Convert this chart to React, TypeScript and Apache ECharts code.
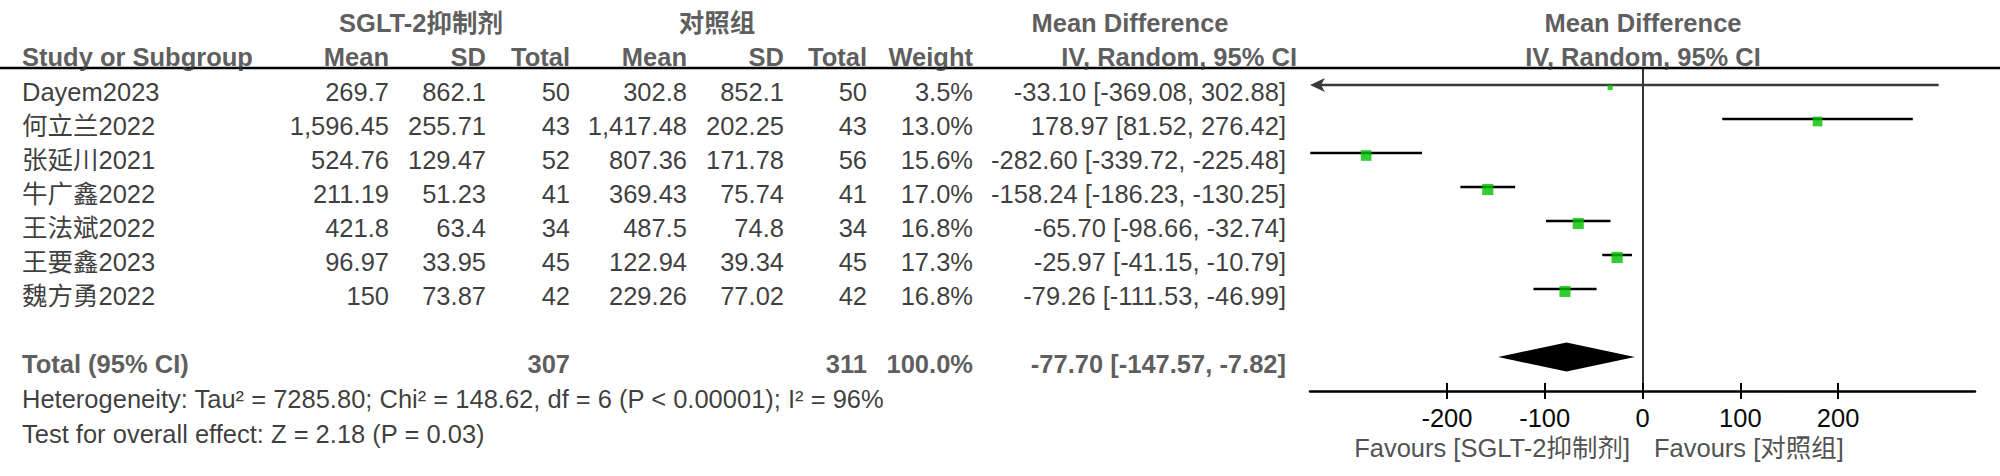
import React, { useEffect, useRef } from "react";
import * as echarts from "echarts";

// ---------- data ----------
const studies = ["Dayem2023", "何立兰2022", "张延川2021", "牛广鑫2022", "王法斌2022", "王要鑫2023", "魏方勇2022"];
const expMean = [269.7, 1596.45, 524.76, 211.19, 421.8, 96.97, 150];
const expSD = [862.1, 255.71, 129.47, 51.23, 63.4, 33.95, 73.87];
const expTotal = [50, 43, 52, 41, 34, 45, 42];
const ctlMean = [302.8, 1417.48, 807.36, 369.43, 487.5, 122.94, 229.26];
const ctlSD = [852.1, 202.25, 171.78, 75.74, 74.8, 39.34, 77.02];
const ctlTotal = [50, 43, 56, 41, 34, 45, 42];
const weights = [3.5, 13.0, 15.6, 17.0, 16.8, 17.3, 16.8];
const meanDiff = [-33.1, 178.97, -282.6, -158.24, -65.7, -25.97, -79.26];
const ciLow = [-369.08, 81.52, -339.72, -186.23, -98.66, -41.15, -111.53];
const ciHigh = [302.88, 276.42, -225.48, -130.25, -32.74, -10.79, -46.99];
const totalExp = 307;
const totalCtl = 311;
const totalWeight = 100.0;
const totalMD = -77.7;
const totalLow = -147.57;
const totalHigh = -7.82;
const groupExp = "SGLT-2抑制剂";
const groupCtl = "对照组";
const heterogeneityText = "Heterogeneity: Tau² = 7285.80; Chi² = 148.62, df = 6 (P < 0.00001); I² = 96%";
const overallText = "Test for overall effect: Z = 2.18 (P = 0.03)";
const xTicks = [-200, -100, 0, 100, 200];
const xRange = [-340, 340];

// ---------- layout (pixel columns in the table grid) ----------
const COL = {
  name: 22, mean1: 389, sd1: 486, n1: 570, mean2: 687, sd2: 784, n2: 867,
  weight: 973, ci: 1286, ciHead: 1297, grp1: 421, grp2: 717, mdHead: 1130,
  plotHead: 1643, favL: 1630, favR: 1654,
};
const FONT = "'Liberation Sans', Arial, 'Noto Sans CJK SC', sans-serif";
const FS = 25.5;

const fmtNum = (v: number) => v.toLocaleString("en-US", { maximumFractionDigits: 3 });
const fmtCI = (m: number, l: number, h: number) => `${m.toFixed(2)} [${l.toFixed(2)}, ${h.toFixed(2)}]`;

type Align = "left" | "right" | "center";
const txt = (x: number, y: number, s: string, align: Align, bold = false, color = "#0a0a0a") => ({
  name: s,
  value: [x, y],
  label: { align, fontWeight: bold ? "bold" : "normal", color },
});

function buildTexts() {
  const H = "#333";
  const items: any[] = [];
  const h1 = -1.82;
  const h2 = -0.82;
  items.push(txt(COL.grp1, h1, groupExp, "center", true, H));
  items.push(txt(COL.grp2, h1, groupCtl, "center", true, H));
  items.push(txt(COL.mdHead, h1, "Mean Difference", "center", true, H));
  items.push(txt(COL.plotHead, h1, "Mean Difference", "center", true, H));
  items.push(txt(COL.name, h2, "Study or Subgroup", "left", true, H));
  items.push(txt(COL.mean1, h2, "Mean", "right", true, H));
  items.push(txt(COL.sd1, h2, "SD", "right", true, H));
  items.push(txt(COL.n1, h2, "Total", "right", true, H));
  items.push(txt(COL.mean2, h2, "Mean", "right", true, H));
  items.push(txt(COL.sd2, h2, "SD", "right", true, H));
  items.push(txt(COL.n2, h2, "Total", "right", true, H));
  items.push(txt(COL.weight, h2, "Weight", "right", true, H));
  items.push(txt(COL.ciHead, h2, "IV, Random, 95% CI", "right", true, H));
  items.push(txt(COL.plotHead, h2, "IV, Random, 95% CI", "center", true, H));
  studies.forEach((s, i) => {
    const y = i + 0.22;
    items.push(txt(COL.name, y, s, "left"));
    items.push(txt(COL.mean1, y, fmtNum(expMean[i]), "right"));
    items.push(txt(COL.sd1, y, fmtNum(expSD[i]), "right"));
    items.push(txt(COL.n1, y, String(expTotal[i]), "right"));
    items.push(txt(COL.mean2, y, fmtNum(ctlMean[i]), "right"));
    items.push(txt(COL.sd2, y, fmtNum(ctlSD[i]), "right"));
    items.push(txt(COL.n2, y, String(ctlTotal[i]), "right"));
    items.push(txt(COL.weight, y, weights[i].toFixed(1) + "%", "right"));
    items.push(txt(COL.ci, y, fmtCI(meanDiff[i], ciLow[i], ciHigh[i]), "right"));
  });
  const ty = studies.length + 1 + 0.22;
  items.push(txt(COL.name, ty, "Total (95% CI)", "left", true, H));
  items.push(txt(COL.n1, ty, String(totalExp), "right", true, H));
  items.push(txt(COL.n2, ty, String(totalCtl), "right", true, H));
  items.push(txt(COL.weight, ty, totalWeight.toFixed(1) + "%", "right", true, H));
  items.push(txt(COL.ci, ty, fmtCI(totalMD, totalLow, totalHigh), "right", true, H));
  items.push(txt(COL.name, ty + 1.02, heterogeneityText, "left"));
  items.push(txt(COL.name, ty + 2.03, overallText, "left"));
  items.push(txt(COL.favL, 10.69, `Favours [${groupExp}]`, "right", false, "#222"));
  items.push(txt(COL.favR, 10.69, `Favours [${groupCtl}]`, "left", false, "#222"));
  return items;
}

export default function App() {
  const ref = useRef<HTMLDivElement>(null);
  useEffect(() => {
    if (!ref.current) return;
    const chart = echarts.init(ref.current, null, { renderer: "svg" });
    const totalRow = studies.length + 1;
    const option: any = {
      animation: false,
      backgroundColor: "#fff",
      textStyle: { fontFamily: FONT },
      grid: [
        { left: 0, top: 0, width: 2000, height: 476 },
        { left: 1310, top: 68, width: 665, height: 323 },
      ],
      xAxis: [
        { type: "value", gridIndex: 0, min: 0, max: 2000, show: false },
        {
          type: "value", gridIndex: 1, min: xRange[0], max: xRange[1], position: "bottom",
          axisLine: { show: true, onZero: false, lineStyle: { color: "#000", width: 2.5 } },
          axisTick: { show: true, inside: false, length: 8, customValues: xTicks, lineStyle: { color: "#000", width: 2 } },
          axisLabel: { show: true, customValues: xTicks, margin: 14, fontSize: FS, color: "#0a0a0a", fontFamily: FONT },
          splitLine: { show: false },
        },
        {
          type: "value", gridIndex: 1, min: xRange[0], max: xRange[1], position: "bottom", offset: 0,
          axisLine: { show: false, onZero: false },
          axisTick: { show: true, inside: true, length: 8, customValues: xTicks, lineStyle: { color: "#000", width: 2 } },
          axisLabel: { show: false },
          splitLine: { show: false },
        },
      ],
      yAxis: [
        { type: "value", gridIndex: 0, min: -2.5, max: 11.5, inverse: true, show: false },
        {
          type: "value", gridIndex: 1, min: -0.5, max: 9, inverse: true,
          axisLine: { show: true, onZero: true, onZeroAxisIndex: 1, lineStyle: { color: "#333", width: 2 } },
          axisTick: { show: false }, axisLabel: { show: false }, splitLine: { show: false },
        },
      ],
      series: [
        {
          type: "line", xAxisIndex: 0, yAxisIndex: 0, symbol: "none", silent: true,
          data: [[0, -0.5], [2000, -0.5]],
          lineStyle: { color: "#000", width: 2.5 }, z: 5,
        },
        {
          type: "scatter", xAxisIndex: 0, yAxisIndex: 0, symbolSize: 1, silent: true,
          itemStyle: { color: "rgba(0,0,0,0)" },
          label: {
            show: true, position: "inside", formatter: (p: any) => p.name,
            fontSize: FS, fontFamily: FONT, verticalAlign: "middle",
          },
          labelLayout: { hideOverlap: false },
          data: buildTexts(), z: 10,
        },
        {
          type: "custom", xAxisIndex: 1, yAxisIndex: 1, silent: true, z: 3,
          data: studies.map((_, i) => [ciLow[i], ciHigh[i], i]),
          renderItem: (_p: any, api: any) => {
            const lo = api.value(0), hi = api.value(1), row = api.value(2);
            const loC = Math.max(lo, xRange[0]);
            const hiC = Math.min(hi, xRange[1]);
            const p1 = api.coord([loC, row]);
            const p2 = api.coord([hiC, row]);
            const clipped = lo < xRange[0];
            const color = clipped ? "#3a3a3a" : "#000";
            const children: any[] = [
              { type: "line", shape: { x1: p1[0] + (clipped ? 6 : 0), y1: p1[1], x2: p2[0], y2: p2[1] }, style: { stroke: color, lineWidth: 2.5 } },
            ];
            if (clipped) {
              children.push({
                type: "polygon",
                shape: { points: [[p1[0], p1[1]], [p1[0] + 15, p1[1] - 7], [p1[0] + 11, p1[1]], [p1[0] + 15, p1[1] + 7]] },
                style: { fill: color },
              });
            }
            return { type: "group", children };
          },
        },
        {
          type: "scatter", xAxisIndex: 1, yAxisIndex: 1, silent: true, z: 4,
          symbol: "rect",
          symbolSize: (v: any) => 2.7 * Math.sqrt(v[2]),
          symbolOffset: [0, 2.5],
          itemStyle: { color: "#00c000" },
          data: studies.map((_, i) => [meanDiff[i], i, weights[i]]),
        },
        {
          type: "custom", xAxisIndex: 1, yAxisIndex: 1, silent: true, z: 4,
          data: [[totalLow, totalMD, totalHigh, totalRow]],
          renderItem: (_p: any, api: any) => {
            const row = api.value(3);
            const a = api.coord([api.value(0), row]);
            const b = api.coord([api.value(1), row]);
            const c = api.coord([api.value(2), row]);
            const h = 14.5;
            return {
              type: "polygon",
              shape: { points: [a, [b[0], b[1] - h], c, [b[0], b[1] + h]] },
              style: { fill: "#000" },
            };
          },
        },
      ],
    };
    chart.setOption(option);
    return () => chart.dispose();
  }, []);
  return (
    <div
      ref={ref}
      style={{ position: "fixed", left: 0, top: 0, width: 2000, height: 476, background: "#fff" }}
    />
  );
}
